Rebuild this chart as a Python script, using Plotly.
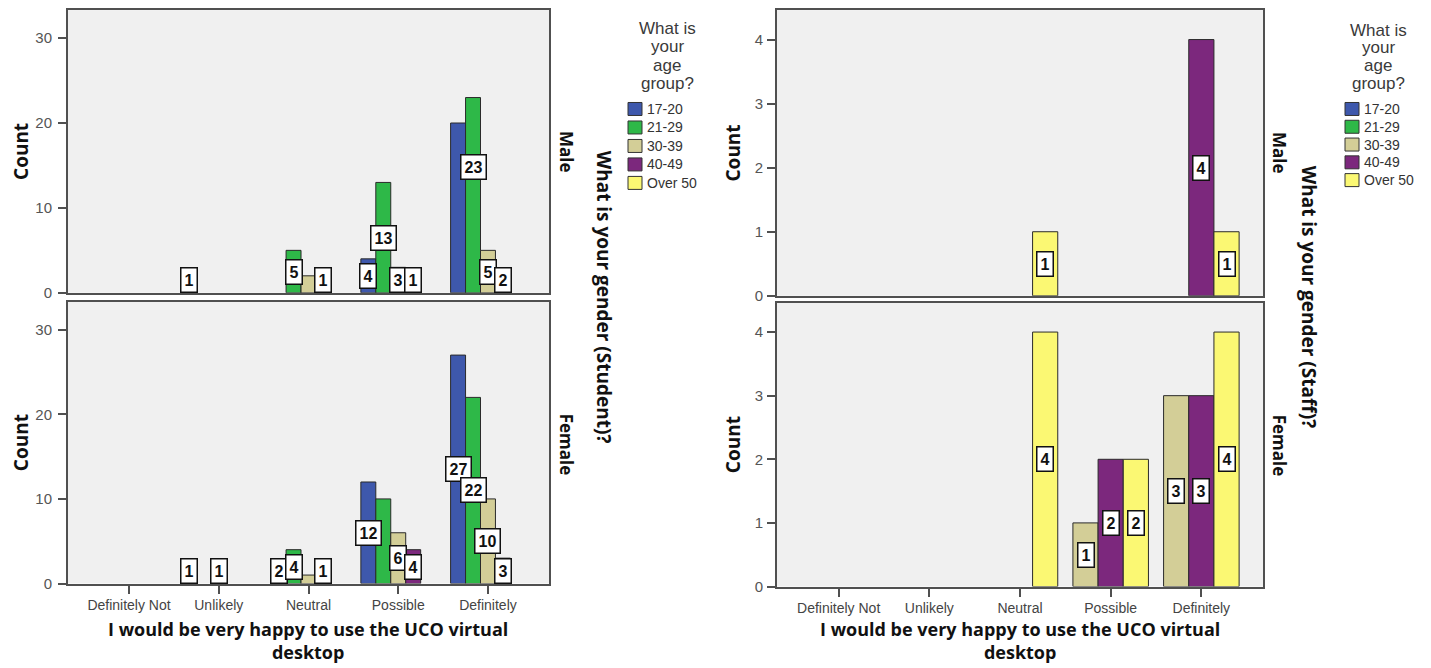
import plotly.graph_objects as go

# ---------------- data ----------------
categories = ["Definitely Not", "Unlikely", "Neutral", "Possible", "Definitely"]
age_groups = ["17-20", "21-29", "30-39", "40-49", "Over 50"]
age_colors = ["#3E58AC", "#2EB848", "#D3CE97", "#7C287D", "#FBF873"]

# Student chart (counts per category)
student_male_17_20 = [0, 1, 0, 4, 20]
student_male_21_29 = [0, 0, 5, 13, 23]
student_male_30_39 = [0, 0, 2, 3, 5]
student_male_40_49 = [0, 0, 1, 1, 2]
student_male_over50 = [0, 0, 0, 0, 0]

student_female_17_20 = [0, 1, 2, 12, 27]
student_female_21_29 = [0, 0, 4, 10, 22]
student_female_30_39 = [0, 1, 1, 6, 10]
student_female_40_49 = [0, 0, 1, 4, 3]
student_female_over50 = [0, 0, 0, 0, 0]

# Staff chart (only three age groups occur)
staff_groups = ["30-39", "40-49", "Over 50"]
staff_male_30_39 = [0, 0, 0, 0, 0]
staff_male_40_49 = [0, 0, 0, 0, 4]
staff_male_over50 = [0, 0, 1, 0, 1]

staff_female_30_39 = [0, 0, 0, 1, 3]
staff_female_40_49 = [0, 0, 0, 2, 3]
staff_female_over50 = [0, 0, 4, 2, 4]

legend_title_lines = ["What is", "your", "age", "group?"]
x_title = "I would be very happy to use the UCO virtual<br>desktop"

# labels the original chart does not show
hidden_labels = {
    ("student", "Male", "Neutral", "30-39"),
    ("student", "Male", "Definitely", "17-20"),
    ("student", "Female", "Neutral", "30-39"),
    ("student", "Female", "Possible", "21-29"),
}
label_y_override = {("student", "Male", "Definitely", "21-29"): 14.8}

# ---------------- layout helpers ----------------
PAGE_OFF = 8            # default body margin of the html page
YS = 0.989              # vertical scale of the photographed page
FW, FH = 1431 - 2 * PAGE_OFF, 667
def xp(px):
    return (px - PAGE_OFF) / FW
def yp(py):
    return 1 - (py / YS - PAGE_OFF) / FH

FONT = "Liberation Sans, Arial, sans-serif"
BOLD = "Open Sans, Liberation Sans, sans-serif"
AXC = "#505050"
GROUP_FRAC = 0.833

panels = {
    # name: (xaxis, yaxis, x px domain, y px domain, y range)
    "sm": ("x", "y", (68, 549), (10, 293), 33.3),
    "sf": ("x2", "y2", (68, 549), (302, 584), 33.3),
    "tm": ("x3", "y3", (777, 1263), (10, 296), 4.46),
    "tf": ("x4", "y4", (777, 1263), (303, 587), 4.46),
}

fig = go.Figure()
annotations = []
shapes = []

def add_panel(key, chart, gender, groups, series):
    xa, ya, xdom, ydom, ymax = panels[key]
    n = len(groups)
    w = GROUP_FRAC / n
    px_per_unit = (ydom[1] - ydom[0]) / ymax
    for i, (g, vals) in enumerate(zip(groups, series)):
        color = age_colors[age_groups.index(g)]
        off = -GROUP_FRAC / 2 + i * w
        fig.add_trace(go.Bar(
            x=categories, y=[v if v else None for v in vals],
            xaxis=xa, yaxis=ya, width=w, offset=off,
            marker=dict(color=color, line=dict(color="#2a2a2a", width=1)),
            name=g, showlegend=False, hoverinfo="x+y+name",
        ))
        for ci, (cat, v) in enumerate(zip(categories, vals)):
            if not v or (chart, gender, cat, g) in hidden_labels:
                continue
            xc = ci + off + w / 2
            yv = label_y_override.get((chart, gender, cat, g), v / 2)
            if yv * px_per_unit < 13:
                y, anchor = 0, "bottom"
            else:
                y, anchor = yv, "middle"
            annotations.append(dict(
                x=xc, y=y, xref=xa, yref=ya, yanchor=anchor, xanchor="center",
                text=str(v), showarrow=False,
                font=dict(family=FONT, size=16, color="#111", weight="bold"),
                bgcolor="white", bordercolor="#111", borderwidth=1.5, borderpad=3,
            ))

add_panel("sm", "student", "Male", age_groups,
          [student_male_17_20, student_male_21_29, student_male_30_39,
           student_male_40_49, student_male_over50])
add_panel("sf", "student", "Female", age_groups,
          [student_female_17_20, student_female_21_29, student_female_30_39,
           student_female_40_49, student_female_over50])
add_panel("tm", "staff", "Male", staff_groups,
          [staff_male_30_39, staff_male_40_49, staff_male_over50])
add_panel("tf", "staff", "Female", staff_groups,
          [staff_female_30_39, staff_female_40_49, staff_female_over50])

# axes
layout_axes = {}
for key, (xa, ya, xdom, ydom, ymax) in panels.items():
    xname = "xaxis" if xa == "x" else "xaxis" + xa[1:]
    yname = "yaxis" if ya == "y" else "yaxis" + ya[1:]
    bottom = key.endswith("f")
    student = key.startswith("s")
    layout_axes[xname] = dict(
        domain=[xp(xdom[0]), xp(xdom[1])], anchor=ya, type="category",
        categoryorder="array", categoryarray=categories,
        range=[-0.68, 4.68], showgrid=False, zeroline=False,
        showline=True, mirror=True, linecolor=AXC, linewidth=2,
        ticks="outside" if bottom else "", ticklen=8, tickwidth=1.5, tickcolor=AXC,
        showticklabels=bottom,
        tickfont=dict(family=FONT, size=14, color="#444"),
    )
    layout_axes[yname] = dict(
        domain=[yp(ydom[1]), yp(ydom[0])], anchor=xa,
        range=[0, ymax], dtick=10 if student else 1, showgrid=False, zeroline=False,
        showline=True, mirror=True, linecolor=AXC, linewidth=2,
        ticks="outside", ticklen=8, tickwidth=1.5, tickcolor=AXC,
        ticklabelstandoff=3 if student else 1,
        tickfont=dict(family=FONT, size=15, color="#555"),
        title=dict(text="Count", font=dict(family=BOLD, size=19, color="#111", weight="bold"),
                   standoff=7 if student else 9),
    )

# x-axis titles (two lines)
for cx in (308, 1020):
    annotations.append(dict(
        x=xp(cx), y=yp(666), xref="paper", yref="paper", text=x_title,
        showarrow=False, xanchor="center", yanchor="bottom", align="center",
        borderpad=0,
        font=dict(family=BOLD, size=18, color="#111", weight="bold"),
    ))

# strip labels and facet titles
def side_text(text, px, py, size, angle=90):
    annotations.append(dict(
        x=xp(px), y=yp(py), xref="paper", yref="paper", text=text, showarrow=False,
        textangle=angle, xanchor="center", yanchor="middle",
        font=dict(family=BOLD, size=size, color="#111", weight="bold"),
    ))

side_text("Male", 566, 152, 17)
side_text("Female", 566, 445, 17)
side_text("What is your gender (Student)?", 604, 297, 19)
side_text("Male", 1279, 153, 17)
side_text("Female", 1279, 446, 17)
side_text("What is your gender (Staff)?", 1309, 297, 19)

# legends (drawn as swatches + labels, as in the original)
def draw_legend(title_cx, title_y0, sw_x, item_y0, step):
    for j, line in enumerate(legend_title_lines):
        annotations.append(dict(
            x=xp(title_cx), y=yp(title_y0 + j * step), xref="paper", yref="paper",
            text=line, showarrow=False, xanchor="center", yanchor="middle",
            font=dict(family=FONT, size=17, color="#3a3a3a"),
        ))
    for i, (g, c) in enumerate(zip(age_groups, age_colors)):
        cy = item_y0 + i * step
        shapes.append(dict(
            type="rect", xref="paper", yref="paper",
            x0=xp(sw_x), x1=xp(sw_x + 14), y0=yp(cy + 6.5), y1=yp(cy - 6.5),
            fillcolor=c, line=dict(color="#333", width=1),
        ))
        annotations.append(dict(
            x=xp(sw_x + 17), y=yp(cy), xref="paper", yref="paper", text=g,
            showarrow=False, xanchor="left", yanchor="middle",
            font=dict(family=FONT, size=14, color="#333"),
        ))

draw_legend(667, 28, 628, 109, 18.5)
draw_legend(1378, 30, 1345, 109, 17.8)

fig.update_layout(
    width=FW, height=FH, margin=dict(l=0, r=0, t=0, b=0),
    paper_bgcolor="white", plot_bgcolor="#F0F0F0",
    barmode="overlay", showlegend=False,
    annotations=annotations, shapes=shapes,
    **layout_axes,
)

fig.write_html("out.html")
